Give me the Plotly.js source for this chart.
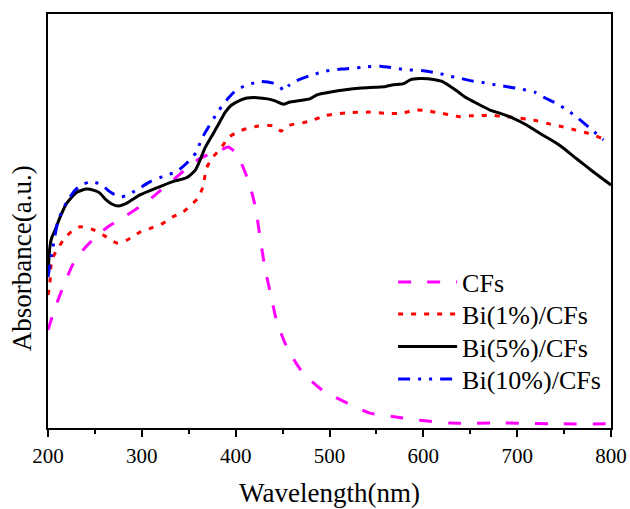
<!DOCTYPE html>
<html>
<head>
<meta charset="utf-8">
<script src="https://cdn.plot.ly/plotly-3.0.1.min.js"></script>
<style>html,body{margin:0;padding:0;background:#fff;}#chart{width:630px;height:509px;}</style>
</head>
<body>
<div id="chart"></div>
<script>
// Wavelength (nm) and relative absorbance (a.u.)
const cfsWl = [200, 208, 219, 228, 239, 251, 264, 281, 303, 320, 337, 354, 367, 376, 385, 392, 399, 406, 412, 417, 421, 426, 431, 437, 444, 455, 471, 492, 519, 543, 569, 599, 629, 684, 749, 800];
const cfsAbs = [0.237, 0.293, 0.357, 0.402, 0.434, 0.462, 0.486, 0.510, 0.542, 0.574, 0.606, 0.639, 0.657, 0.662, 0.672, 0.679, 0.667, 0.64, 0.606, 0.57, 0.534, 0.461, 0.389, 0.326, 0.256, 0.193, 0.135, 0.092, 0.060, 0.036, 0.027, 0.018, 0.012, 0.012, 0.010, 0.010];

const bi1Wl = [200, 202, 204, 209.6, 218, 226, 234, 247, 259, 273.5, 284, 298, 311, 323, 333, 344, 354.5, 360, 365, 369, 376, 384, 393, 406, 423, 440, 448.6, 451, 457, 479, 496, 517, 543, 561, 577, 591, 605, 619.5, 630, 639, 650, 658, 671, 685, 698, 710, 721, 735, 747.5, 761.6, 775.5, 790];
const bi1Abs = [0.321, 0.35, 0.406, 0.43, 0.459, 0.476, 0.486, 0.48, 0.466, 0.447, 0.454, 0.473, 0.484, 0.495, 0.51, 0.522, 0.543, 0.556, 0.582, 0.628, 0.655, 0.675, 0.703, 0.719, 0.729, 0.730, 0.717, 0.722, 0.731, 0.741, 0.755, 0.761, 0.763, 0.760, 0.760, 0.768, 0.766, 0.760, 0.756, 0.752, 0.754, 0.754, 0.756, 0.752, 0.750, 0.746, 0.742, 0.734, 0.728, 0.720, 0.712, 0.700];

const bi5Wl = [200, 202, 204, 207.5, 213, 220, 231, 241, 249, 255, 262, 268, 275, 284, 298, 316, 333, 348, 357, 362, 367, 376, 382, 389, 395, 404, 412, 423, 434, 442, 451, 457, 468, 479, 487, 500, 517, 534, 549, 560, 568, 579, 586, 596, 611, 620, 628, 637, 644, 657, 671, 682, 696, 710, 724, 739, 747, 763, 781, 800];
const bi5Abs = [0.374, 0.437, 0.46, 0.478, 0.51, 0.543, 0.570, 0.577, 0.574, 0.568, 0.551, 0.541, 0.536, 0.543, 0.563, 0.58, 0.595, 0.605, 0.623, 0.647, 0.675, 0.711, 0.735, 0.763, 0.779, 0.791, 0.797, 0.798, 0.795, 0.790, 0.782, 0.787, 0.791, 0.795, 0.805, 0.811, 0.817, 0.821, 0.823, 0.825, 0.829, 0.832, 0.841, 0.844, 0.842, 0.837, 0.826, 0.812, 0.800, 0.784, 0.768, 0.760, 0.748, 0.732, 0.712, 0.692, 0.680, 0.651, 0.619, 0.587];

const bi10Wl = [200, 204, 210.7, 219, 229, 237, 245, 257, 264, 270, 278, 285, 294.5, 309, 326.5, 337, 348, 354, 358.5, 363, 371, 382, 393, 401, 414, 427, 440, 447, 451, 456, 461, 479, 496, 513, 534, 554, 579, 600, 616, 626, 639, 650, 660, 671, 685, 703, 719, 727.5, 742, 754.5, 765, 777.6, 792];
const bi10Abs = [0.365, 0.42, 0.50, 0.542, 0.575, 0.588, 0.595, 0.588, 0.574, 0.565, 0.558, 0.563, 0.575, 0.595, 0.611, 0.619, 0.64, 0.655, 0.667, 0.695, 0.727, 0.767, 0.799, 0.817, 0.830, 0.837, 0.833, 0.826, 0.814, 0.826, 0.835, 0.851, 0.862, 0.867, 0.871, 0.874, 0.866, 0.863, 0.857, 0.851, 0.845, 0.839, 0.836, 0.831, 0.826, 0.819, 0.811, 0.800, 0.784, 0.766, 0.748, 0.724, 0.696];

const seriesNames = ['CFs', 'Bi(1%)/CFs', 'Bi(5%)/CFs', 'Bi(10%)/CFs'];
const xTickVals = [200, 300, 400, 500, 600, 700, 800];
const xTickText = ['200', '300', '400', '500', '600', '700', '800'];

const FONT = 'Times New Roman, Liberation Serif, serif';

const traces = [
  {x: cfsWl, y: cfsAbs, name: seriesNames[0], mode: 'lines', legend: 'legend',
   line: {color: '#FF00FF', width: 3, dash: '13px,16px', shape: 'spline', smoothing: 0.6}},
  {x: bi1Wl, y: bi1Abs, name: seriesNames[1], mode: 'lines', legend: 'legend2',
   line: {color: '#FF0000', width: 3, dash: '5px,8px', shape: 'spline', smoothing: 0.6}},
  {x: bi5Wl, y: bi5Abs, name: seriesNames[2], mode: 'lines', legend: 'legend3',
   line: {color: '#000000', width: 3, shape: 'spline', smoothing: 0.6}},
  {x: bi10Wl, y: bi10Abs, name: seriesNames[3], mode: 'lines', legend: 'legend4',
   line: {color: '#0000FF', width: 3, dash: '12px,8px,3px,8px,3px,8px', shape: 'spline', smoothing: 0.6}}
];

function leg(y) {
  return {x: 0.613, xanchor: 'left', y: y, yanchor: 'middle', itemwidth: 59,
    bgcolor: 'rgba(0,0,0,0)', borderwidth: 0, font: {family: FONT, size: 26, color: '#000'}};
}

const layout = {
  width: 630, height: 509,
  margin: {l: 48, r: 19, t: 14, b: 81},
  paper_bgcolor: '#fff', plot_bgcolor: '#fff',
  font: {family: FONT, color: '#000'},
  showlegend: true,
  legend: leg(0.3527), legend2: leg(0.2754), legend3: leg(0.1969), legend4: leg(0.1184),
  xaxis: {
    range: [200, 800], tickmode: 'array', tickvals: xTickVals, ticktext: xTickText,
    ticks: 'outside', ticklen: 7, tickwidth: 2, tickcolor: '#000', ticklabelstandoff: 1,
    minor: {dtick: 50, ticks: 'outside', ticklen: 4, tickwidth: 2, tickcolor: '#000', showgrid: false},
    showline: true, linewidth: 2, linecolor: '#000', mirror: true,
    showgrid: false, zeroline: false,
    tickfont: {family: FONT, size: 21, color: '#000'},
    title: {text: 'Wavelength(nm)', font: {family: FONT, size: 27, color: '#000'}, standoff: 16}
  },
  yaxis: {
    range: [0, 1], showticklabels: false, ticks: '',
    showline: true, linewidth: 2, linecolor: '#000', mirror: true,
    showgrid: false, zeroline: false
  },
  annotations: [{
    text: 'Absorbance(a.u.)', textangle: -90, xref: 'paper', yref: 'paper',
    x: -0.0462, y: 0.41, xanchor: 'center', yanchor: 'middle', showarrow: false,
    font: {family: FONT, size: 27, color: '#000'}
  }]
};

Plotly.newPlot('chart', traces, layout, {displayModeBar: false, staticPlot: true});
</script>
</body>
</html>
